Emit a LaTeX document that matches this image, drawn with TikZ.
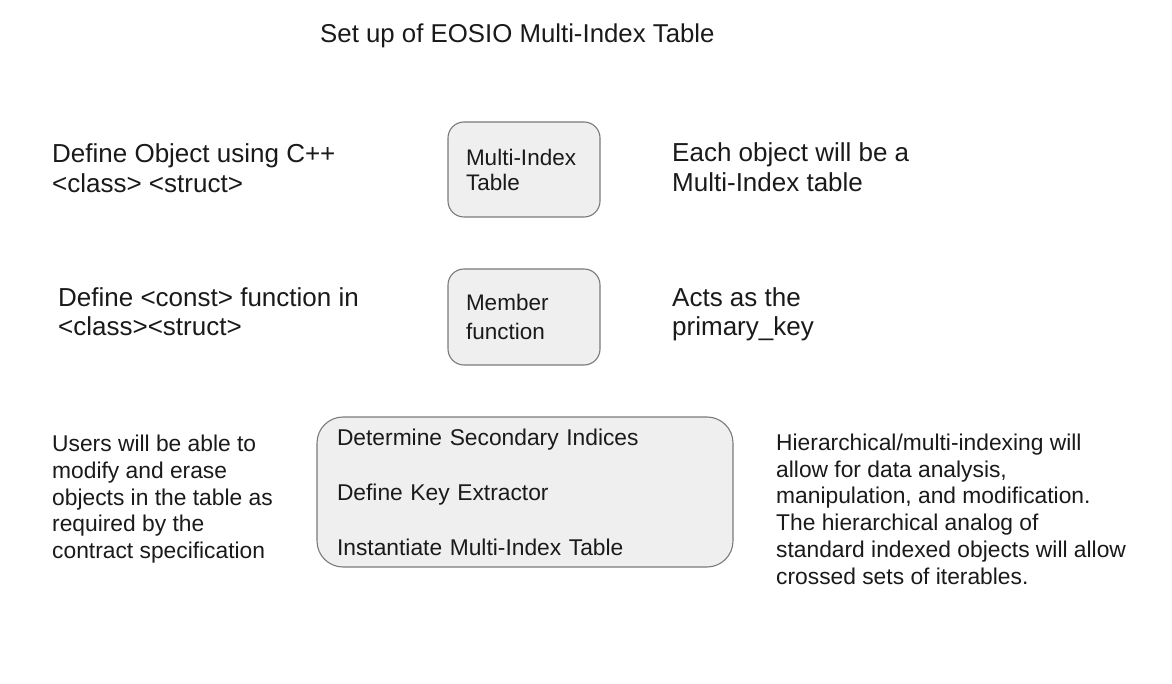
\documentclass[tikz,border=0pt]{standalone}
\usepackage{fontspec}
\setmainfont{Liberation Sans}
\definecolor{boxfill}{HTML}{EFEFEF}
\definecolor{boxline}{HTML}{7A7A7A}
\definecolor{ink}{HTML}{1A1A1A}
\begin{document}
\begin{tikzpicture}[x=1pt,y=-1pt,
  every node/.style={text=ink},
  title/.style={anchor=base west,inner sep=0pt,font=\fontsize{25.8}{30}\selectfont},
  bigtext/.style={anchor=base west,inner sep=0pt,align=left,font=\fontsize{26}{30}\selectfont},
  bigtextb/.style={anchor=base west,inner sep=0pt,align=left,font=\fontsize{26}{28.5}\selectfont},
  smalltext/.style={anchor=base west,inner sep=0pt,align=left,font=\fontsize{22.8}{26.7}\selectfont},
  roundbox/.style={draw=boxline,fill=boxfill,line width=1.1pt,rounded corners=16pt,
    align=left,font=\fontsize{22.5}{25}\selectfont,inner ysep=0pt},
]
\useasboundingbox[fill=white] (0,0) rectangle (1172,684);

\node[title] (title) at (320,43) {Set up of EOSIO Multi-Index Table};

% row 1 (base anchor = last line's baseline)
\node[bigtext] (defobj) at (52,193) {Define Object using C++\\<class> <struct>};
\node[roundbox,minimum width=152pt,minimum height=95pt,text width=116pt,inner xsep=18pt]
  (mitable) at (524,169.5) {Multi-Index\\Table};
\node[bigtext] (eachobj) at (672,192) {Each object will be a\\Multi-Index table};

% row 2
\node[bigtextb] (defconst) at (58,335.5) {Define <const> function in\\<class><struct>};
\node[roundbox,minimum width=152pt,minimum height=96pt,text width=116pt,inner xsep=18pt,
  font=\fontsize{22.5}{29}\selectfont]
  (member) at (524,317) {Member\\function};
\node[bigtextb] (acts) at (672,335.5) {Acts as the\\primary\_key};

% row 3
\node[smalltext] (users) at (52,558.5) {Users will be able to\\modify and erase\\objects in the table as\\required by the\\contract specification};
\node[roundbox,rounded corners=26pt,minimum width=416pt,minimum height=150pt,text width=376pt,inner xsep=20pt,
  font=\fontsize{22.8}{55}\selectfont]
  (steps) at (525,492) {Determine Secondary Indices\\Define Key Extractor\\Instantiate Multi-Index Table};
\node[smalltext] (hier) at (776,584) {Hierarchical/multi-indexing will\\allow for data analysis,\\manipulation, and modification.\\The hierarchical analog of\\standard indexed objects will allow\\crossed sets of iterables.};
\end{tikzpicture}
\end{document}
